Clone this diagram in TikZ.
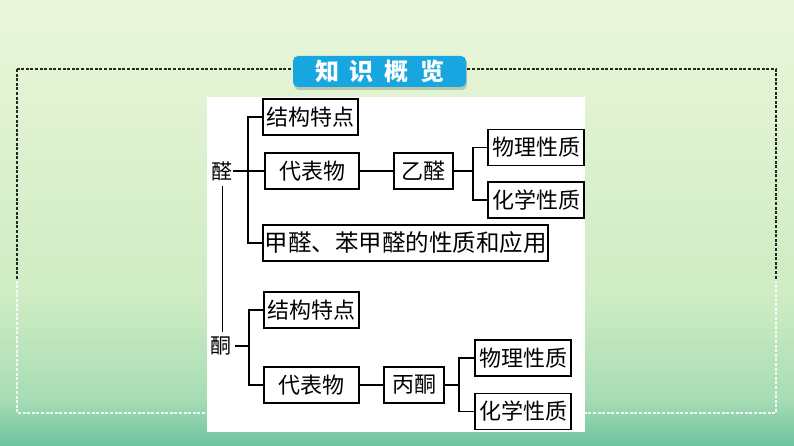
\documentclass[tikz,border=0pt]{standalone}
\usepackage{fontspec}
\newfontfamily\cjk{Noto Sans CJK SC}
\usepackage{xcolor}
\usepackage{tikz}

\definecolor{bgTop}{RGB}{234,246,218}
\definecolor{bgMid}{RGB}{206,236,195}
\definecolor{bgLow}{RGB}{166,220,180}
\definecolor{bgBottom}{RGB}{108,194,158}
\definecolor{badgeBlue}{RGB}{24,166,224}
\definecolor{dashDark}{RGB}{35,40,35}

\tikzset{
	topicbox/.style={draw=black, line width=1.5pt, fill=white, inner sep=0pt,
		minimum height=36pt, font=\cjk\fontsize{22}{26}\selectfont},
	rootlabel/.style={inner sep=0pt, font=\cjk\fontsize{21}{25}\selectfont},
	branch/.style={line width=1.5pt},
	badge/.style={fill=badgeBlue, rounded corners=5pt, text=white, inner sep=0pt,
		minimum width=173pt, minimum height=31pt, font=\cjk\bfseries\fontsize{24}{28}\selectfont},
	frame/.style={line width=1.8pt, dash pattern=on 3pt off 1.6pt},
}

\begin{document}
\begin{tikzpicture}[x=1pt,y=-1pt]
	\newcommand{\gap}{\hspace{11pt}}
	\useasboundingbox (0,0) rectangle (794,446);

	% background
	\shade[top color=bgTop, bottom color=bgMid] (0,0) rectangle (794,301);
	\shade[top color=bgMid, bottom color=bgLow] (0,300) rectangle (794,401);
	\shade[top color=bgLow, bottom color=bgBottom] (0,400) rectangle (794,446);

	% dashed frame, dark above and light below
	\begin{scope}
		\clip (0,0) rectangle (794,280);
		\draw[frame, dashDark] (17,69) rectangle (776,413);
	\end{scope}
	\begin{scope}
		\clip (0,280) rectangle (794,446);
		\draw[frame, white, opacity=0.85] (17,69) rectangle (776,413);
	\end{scope}

	% title
	\fill[black, opacity=0.18, rounded corners=5pt] (294,58) rectangle (467,90);
	\node[badge] (title) at (379.5,71.5) {知\gap 识\gap 概\gap 览};

	% white panel
	\fill[white] (207,97) rectangle (585,432);

	% aldehyde part
	\node[rootlabel] (quan) at (222,171) {醛};
	\node[topicbox, minimum width=95pt] (jiegou_a) at (310.5,117) {结构特点};
	\node[topicbox, minimum width=94pt] (daibiao_a) at (312,171) {代表物};
	\node[topicbox, minimum width=59pt] (yiquan) at (423.5,171) {乙醛};
	\node[topicbox, minimum width=96pt] (wuli_a) at (536,147.5) {物理性质};
	\node[topicbox, minimum width=96pt] (huaxue_a) at (536,200) {化学性质};
	\node[topicbox, minimum width=285pt, font=\cjk\fontsize{23.5}{27}\selectfont] (jiaquan)
		at (405.5,243) {甲醛、苯甲醛的性质和应用};

	% ketone part
	\node[rootlabel] (tong) at (221,346) {酮};
	\node[topicbox, minimum width=95pt] (jiegou_b) at (311.5,310) {结构特点};
	\node[topicbox, minimum width=95pt] (daibiao_b) at (311.5,385) {代表物};
	\node[topicbox, minimum width=60pt] (bingtong) at (414,385) {丙酮};
	\node[topicbox, minimum width=96pt] (wuli_b) at (523,358) {物理性质};
	\node[topicbox, minimum width=96pt] (huaxue_b) at (523,411.5) {化学性质};

	% forks
	\coordinate (fork_a) at (248,171);
	\coordinate (fork_c) at (473,171);
	\coordinate (fork_b) at (249,346);
	\coordinate (fork_d) at (459,385);

	% connectors
	\draw[branch] (quan.east) -- (daibiao_a.west);
	\draw[branch] (jiegou_a.west) -| (fork_a) |- (jiaquan.west);
	\draw[branch] (daibiao_a.east) -- (yiquan.west);
	\draw[branch] (yiquan.east) -- (fork_c);
	\draw[branch] (wuli_a.west) -| (fork_c) |- (huaxue_a.west);

	\draw[branch] ([xshift=3pt]tong.east) -- (fork_b);
	\draw[branch] (jiegou_b.west) -| (fork_b) |- (daibiao_b.west);
	\draw[branch] (daibiao_b.east) -- (bingtong.west);
	\draw[branch] (bingtong.east) -- (fork_d);
	\draw[branch] (wuli_b.west) -| (fork_d) |- (huaxue_b.west);

	% link between both roots
	\draw[line width=1pt, shorten <=5pt, shorten >=5pt] (quan.south) -- (quan.south |- tong.north);
\end{tikzpicture}
\end{document}
